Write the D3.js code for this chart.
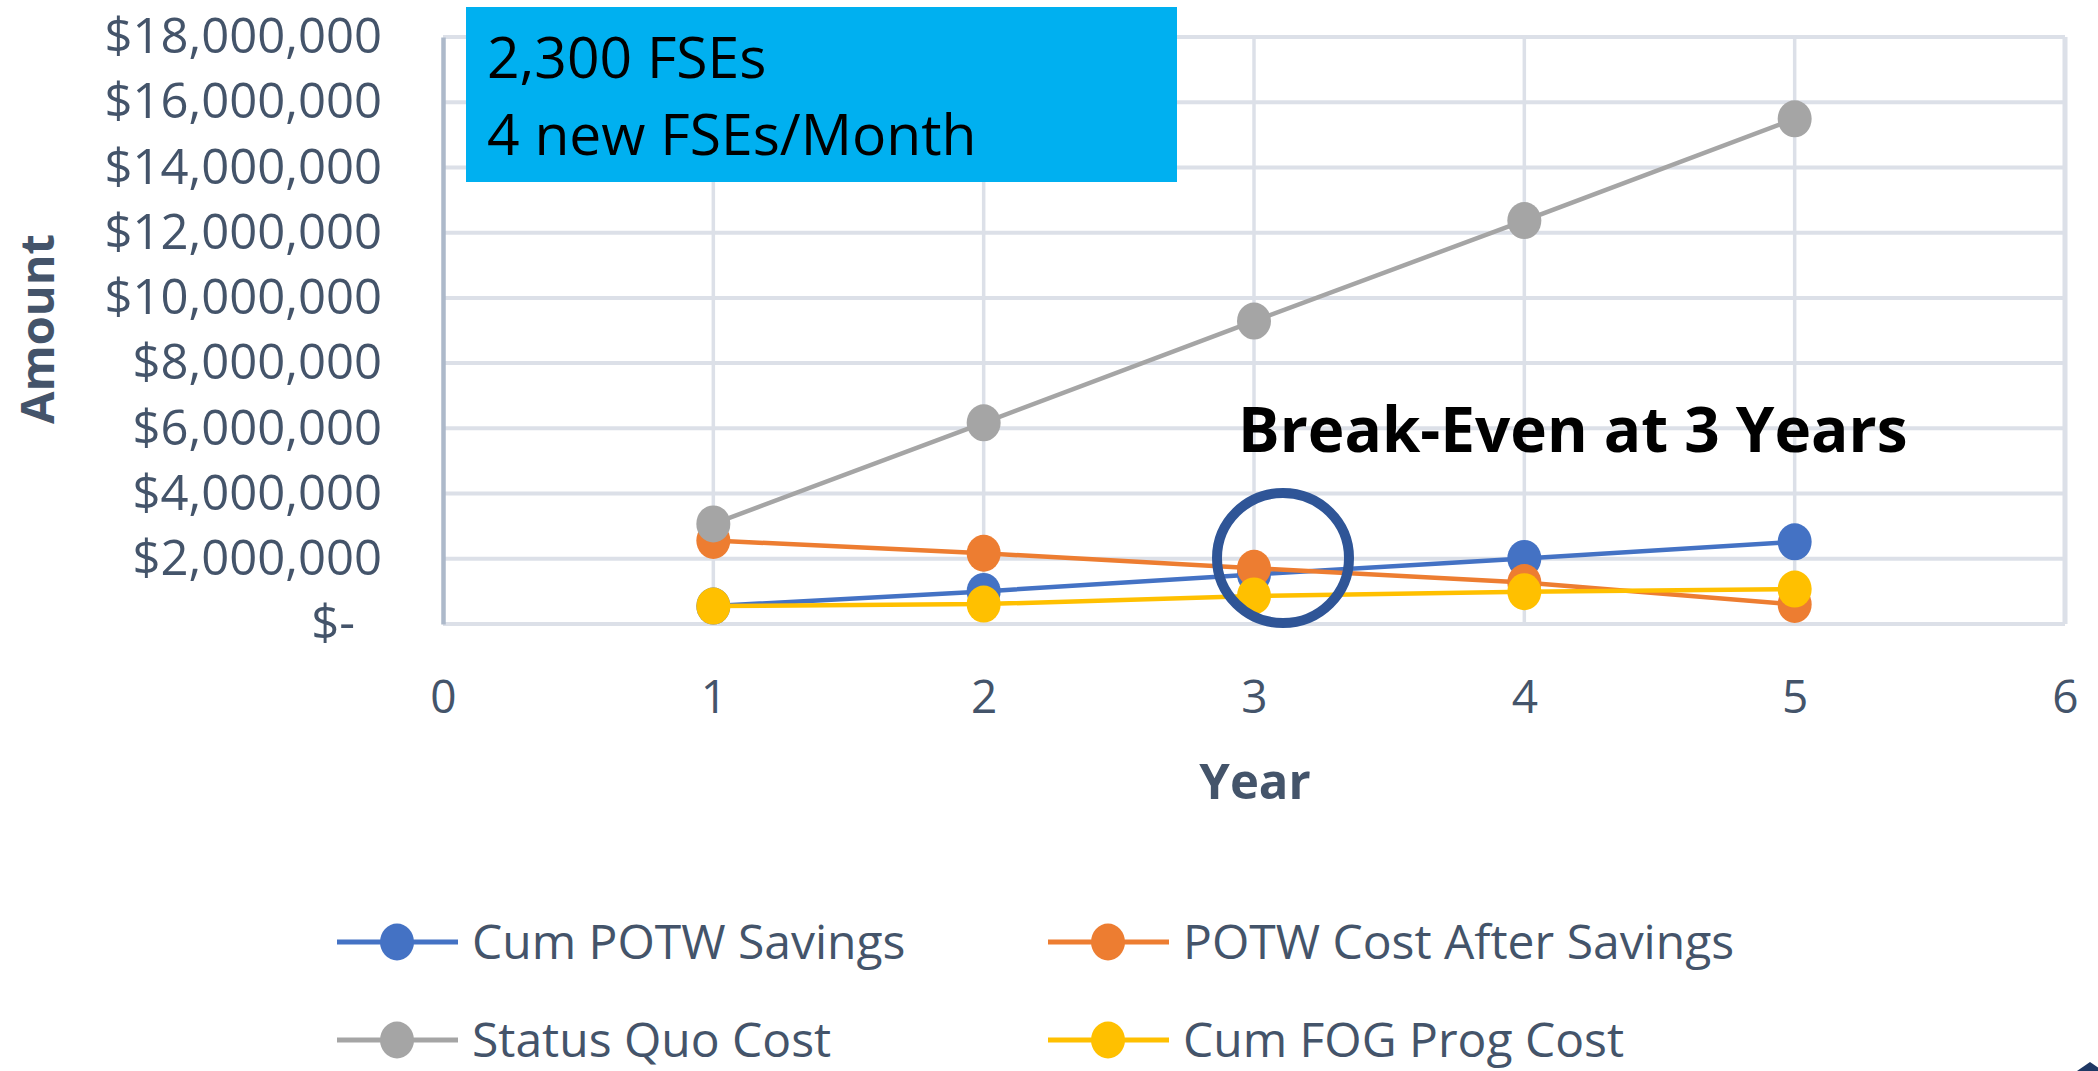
<!DOCTYPE html>
<html>
<head>
<meta charset="utf-8">
<script src="https://cdn.jsdelivr.net/npm/d3@7"></script>
<style>
  html, body { margin: 0; padding: 0; background: #fff; }
  svg { display: block; }
</style>
</head>
<body>
<script>
// data
const years = [1, 2, 3, 4, 5];
const seriesNames = ["Cum POTW Savings", "POTW Cost After Savings", "Status Quo Cost", "Cum FOG Prog Cost"];
const cumPotwSavings = [550000, 1000000, 1520000, 2010000, 2520000];
const potwCostAfterSavings = [2560000, 2170000, 1710000, 1270000, 600000];
const statusQuoCost = [3070000, 6170000, 9290000, 12370000, 15490000];
const cumFogProgCost = [550000, 610000, 860000, 990000, 1070000];
const seriesColors = ["#4472C4", "#ED7D31", "#A5A5A5", "#FFC000"];
const xTicks = [0, 1, 2, 3, 4, 5, 6];
const yTicks = [0, 2e6, 4e6, 6e6, 8e6, 10e6, 12e6, 14e6, 16e6, 18e6];
const boxLines = ["2,300 FSEs", "4 new FSEs/Month"];
const breakEvenText = "Break-Even at 3 Years";

const allSeries = [cumPotwSavings, potwCostAfterSavings, statusQuoCost, cumFogProgCost];

const width = 2098;
const height = 1071;
const font = "'Open Sans', 'Noto Sans', sans-serif";
const textColor = "#44546A";

const svg = d3.select("body").append("svg")
    .attr("width", width)
    .attr("height", height);

svg.append("rect")
    .attr("width", width)
    .attr("height", height)
    .attr("fill", "#fff");

// plot area
const x = d3.scaleLinear().domain([0, 6]).range([443, 2065]);
const y = d3.scaleLinear().domain([0, 18e6]).range([624, 37]);

// gridlines
svg.append("g").selectAll("line")
    .data(yTicks)
    .join("line")
    .attr("x1", x(0)).attr("x2", x(6))
    .attr("y1", d => y(d)).attr("y2", d => y(d))
    .attr("stroke", "#DCE0E8")
    .attr("stroke-width", 4);

svg.append("g").selectAll("line")
    .data(xTicks.slice(1))
    .join("line")
    .attr("x1", d => x(d)).attr("x2", d => x(d))
    .attr("y1", y(0)).attr("y2", y(18e6))
    .attr("stroke", "#DCE0E8")
    .attr("stroke-width", d => d === 6 ? 5 : 3.5);

// y axis
const yAxis = svg.append("g")
    .attr("transform", `translate(${x(0)},0)`)
    .call(d3.axisLeft(y)
        .tickValues(yTicks)
        .tickSize(0)
        .tickPadding(61)
        .tickFormat(d => d === 0 ? "$-" : "$" + d3.format(",")(d)));
yAxis.select(".domain")
    .attr("stroke", "#ADB9CA")
    .attr("stroke-width", 4.5);
yAxis.selectAll("text")
    .attr("font-family", font)
    .attr("font-size", 49)
    .attr("fill", textColor)
    .attr("dx", d => d === 0 ? -27 : 0);

// x axis
const xAxis = svg.append("g")
    .attr("transform", `translate(0,${y(0)})`)
    .call(d3.axisBottom(x)
        .tickValues(xTicks)
        .tickSize(0)
        .tickPadding(0)
        .tickFormat(d3.format("d")));
xAxis.select(".domain").remove();
xAxis.selectAll("text")
    .attr("font-family", font)
    .attr("font-size", 46)
    .attr("fill", textColor)
    .attr("dy", null)
    .attr("y", 89);

// axis titles
svg.append("text")
    .attr("transform", "translate(54,329) rotate(-90)")
    .attr("text-anchor", "middle")
    .attr("font-family", font)
    .attr("font-weight", "bold")
    .attr("font-size", 47)
    .attr("fill", textColor)
    .text("Amount");

svg.append("text")
    .attr("x", 1255)
    .attr("y", 799)
    .attr("text-anchor", "middle")
    .attr("font-family", font)
    .attr("font-weight", "bold")
    .attr("font-size", 49)
    .attr("fill", textColor)
    .text("Year");

// series lines and markers
const line = d3.line()
    .x((d, i) => x(years[i]))
    .y(d => y(d));

allSeries.forEach((values, s) => {
    const g = svg.append("g");
    g.append("path")
        .attr("d", line(values))
        .attr("fill", "none")
        .attr("stroke", seriesColors[s])
        .attr("stroke-width", 4.5)
        .attr("stroke-linejoin", "round");
    g.selectAll("ellipse")
        .data(values)
        .join("ellipse")
        .attr("cx", (d, i) => x(years[i]))
        .attr("cy", d => y(d))
        .attr("rx", 17)
        .attr("ry", 18.5)
        .attr("fill", seriesColors[s]);
});

// text box
svg.append("rect")
    .attr("x", 466)
    .attr("y", 7)
    .attr("width", 711)
    .attr("height", 175)
    .attr("fill", "#00B0F0");

svg.append("g").selectAll("text")
    .data(boxLines)
    .join("text")
    .attr("x", 487)
    .attr("y", (d, i) => 78 + i * 77)
    .attr("font-family", font)
    .attr("font-size", 57)
    .attr("fill", "#000")
    .text(d => d);

// break-even note
svg.append("text")
    .attr("x", 1238)
    .attr("y", 452)
    .attr("font-family", font)
    .attr("font-weight", "bold")
    .attr("font-size", 62)
    .attr("fill", "#000")
    .text(breakEvenText);

svg.append("ellipse")
    .attr("cx", 1283)
    .attr("cy", 558)
    .attr("rx", 66)
    .attr("ry", 65)
    .attr("fill", "none")
    .attr("stroke", "#2F5597")
    .attr("stroke-width", 10);

// legend
const legendCols = [337, 1048];
const legendRows = [942, 1040];
const legend = svg.append("g").selectAll("g")
    .data(seriesNames)
    .join("g")
    .attr("transform", (d, i) => `translate(${legendCols[i % 2]},${legendRows[Math.floor(i / 2)]})`);

legend.append("line")
    .attr("x1", 0).attr("x2", 121)
    .attr("stroke", (d, i) => seriesColors[i])
    .attr("stroke-width", 5);
legend.append("ellipse")
    .attr("cx", 60)
    .attr("rx", 17)
    .attr("ry", 18.5)
    .attr("fill", (d, i) => seriesColors[i]);
legend.append("text")
    .attr("x", 135)
    .attr("y", 17)
    .attr("font-family", font)
    .attr("font-size", 48)
    .attr("fill", textColor)
    .text(d => d);

// small corner mark
svg.append("path")
    .attr("d", "M2077,1071L2090,1062L2103,1071Z")
    .attr("fill", "#1F3864");
</script>
</body>
</html>
